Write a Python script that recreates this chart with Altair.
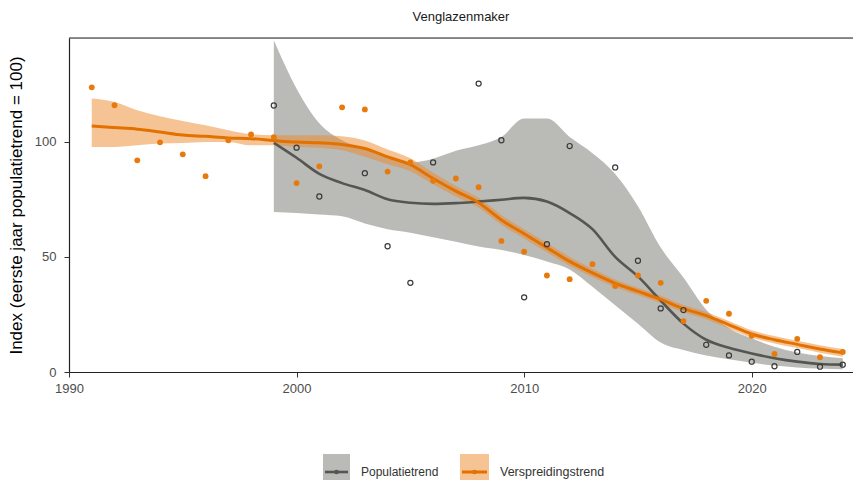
import altair as alt
import pandas as pd

# ---------------- data ----------------
spr_years = list(range(1991, 2025))
spr_points = [123.6, 115.8, 91.9, 99.7, 94.5, 85.0, 100.6, 103.1, 102.0, 82.0,
              89.3, 114.9, 114.0, 87.0, 91.0, 83.0, 84.0, 80.2, 56.9, 52.2,
              41.9, 40.3, 46.8, 37.3, 41.9, 38.7, 22.1, 30.9, 25.3, 15.7,
              7.8, 14.4, 6.4, 8.7]
spr_trend = [106.8, 106.1, 105.4, 104.2, 102.9, 102.3, 101.6, 101.3, 100.5, 99.8,
             99.5, 98.8, 97.0, 93.4, 90.0, 84.0, 78.5, 73.5, 66.0, 60.0,
             54.0, 48.0, 43.0, 38.5, 35.0, 31.5, 27.5, 24.5, 20.5, 16.5,
             14.0, 12.0, 10.0, 8.3]
spr_lo = [97.7, 97.7, 98.4, 99.2, 99.4, 99.9, 99.9, 98.4, 98.4, 97.7,
          97.4, 96.3, 93.5, 90.2, 87.2, 81.5, 76.2, 71.4, 63.9, 58.0,
          52.0, 46.1, 41.2, 36.8, 33.4, 29.9, 25.9, 22.9, 18.9, 14.9,
          12.4, 10.4, 8.4, 6.6]
spr_hi = [118.7, 117.2, 113.6, 111.0, 109.0, 107.1, 104.9, 103.2, 102.8, 102.8,
          102.8, 102.3, 100.5, 96.6, 92.8, 86.5, 80.8, 75.6, 68.1, 62.0,
          56.0, 49.9, 44.8, 40.2, 36.6, 33.1, 29.1, 26.1, 22.1, 18.1,
          15.6, 13.6, 11.6, 10.0]

pop_point_years = [1999, 2000, 2001, 2003, 2004, 2005, 2006, 2008, 2009, 2010,
                   2011, 2012, 2014, 2015, 2016, 2017, 2018, 2019, 2020, 2021,
                   2022, 2023, 2024]
pop_points = [115.7, 97.4, 76.2, 86.3, 54.6, 38.7, 91.0, 125.2, 100.6, 32.4,
              55.5, 98.1, 88.8, 48.3, 27.6, 26.9, 11.8, 7.2, 4.5, 2.5,
              8.7, 2.3, 3.2]
pop_years = list(range(1999, 2025))
pop_trend = [99.5, 93.0, 86.0, 82.0, 79.0, 75.0, 73.5, 73.0, 73.3, 74.0,
             74.8, 75.6, 74.0, 69.0, 62.0, 50.0, 41.5, 31.0, 21.0, 14.0,
             10.5, 8.0, 6.0, 4.5, 3.5, 3.2]
pop_lo = [69.5, 69.0, 68.4, 67.6, 64.5, 62.0, 60.5, 58.5, 56.5, 54.5,
          53.0, 50.8, 48.0, 44.5, 37.0, 29.0, 21.0, 12.8, 9.5, 7.2,
          5.5, 4.0, 2.8, 2.0, 1.5, 1.2]
pop_hi = [144.0, 123.0, 108.0, 100.6, 97.0, 94.0, 91.0, 92.6, 96.0, 98.4,
          102.0, 110.0, 110.0, 102.0, 95.0, 86.0, 72.0, 54.0, 41.0, 27.0,
          19.0, 14.6, 11.0, 8.5, 7.0, 6.0]

x_ticks = [1990, 2000, 2010, 2020]
y_ticks = [0, 50, 100]
title_text = "Venglazenmaker"
y_title = "Index (eerste jaar populatietrend = 100)"
legend_labels = ["Populatietrend", "Verspreidingstrend"]

# ---------------- styling ----------------
W, H = 784, 334
GREY_BAND = "#BABAB6"
GREY_LINE = "#555551"
ORANGE = "#E87A0C"
ORANGE_LINE = "#E27100"
ORANGE_BAND = "#EE8A2A"
FONT = "Liberation Sans"

spr_df = pd.DataFrame({"jaar": spr_years, "punt": spr_points, "trend": spr_trend,
                       "lo": spr_lo, "hi": spr_hi})
pop_df = pd.DataFrame({"jaar": pop_years, "trend": pop_trend, "lo": pop_lo, "hi": pop_hi})
pop_pts_df = pd.DataFrame({"jaar": pop_point_years, "punt": pop_points})

xscale = alt.Scale(domain=[1990, 2024.45], nice=False, zero=False)
yscale = alt.Scale(domain=[0, 145], nice=False)

x_axis = alt.Axis(values=x_ticks, format="d", title=None, grid=False,
                  labelColor="#4D4D4D", labelFontSize=13, labelFont=FONT,
                  labelFlush=False,
                  tickColor="#333333", tickSize=5, labelPadding=5,
                  domainColor="#222222", domainWidth=1.2)
y_axis = alt.Axis(values=y_ticks, title=y_title, grid=False,
                  labelColor="#4D4D4D", labelFontSize=13, labelFont=FONT,
                  labelFlush=False,
                  tickColor="#333333", tickSize=5, labelPadding=8,
                  domainColor="#222222", domainWidth=1.2,
                  titleFont=FONT, titleFontSize=17, titleFontWeight="normal",
                  titleColor="#000000", titleX=-44, titleY=H / 2,
                  titleAngle=270, titleAlign="center", titleBaseline="bottom")


def X():
    return alt.X("jaar:Q", scale=xscale, axis=x_axis)


def Y(field):
    return alt.Y(f"{field}:Q", scale=yscale, axis=y_axis)


grey_band = alt.Chart(pop_df).mark_area(color=GREY_BAND, opacity=1, interpolate="monotone", clip=True).encode(
    x=X(), y=Y("lo"), y2="hi:Q")
orange_band = alt.Chart(spr_df).mark_area(color=ORANGE_BAND, opacity=0.5, interpolate="monotone", clip=True).encode(
    x=X(), y=Y("lo"), y2="hi:Q")
grey_line = alt.Chart(pop_df).mark_line(color=GREY_LINE, strokeWidth=2.6, interpolate="monotone", clip=True).encode(
    x=X(), y=Y("trend"))
orange_line = alt.Chart(spr_df).mark_line(color=ORANGE_LINE, strokeWidth=3, interpolate="monotone", clip=True).encode(
    x=X(), y=Y("trend"))
grey_pts = alt.Chart(pop_pts_df).mark_point(shape="circle", filled=False, color="#3A3A3A",
                                            size=26, strokeWidth=1.2, opacity=1).encode(
    x=X(), y=Y("punt"))
orange_pts = alt.Chart(spr_df).mark_point(shape="circle", filled=True, color=ORANGE,
                                          size=34, opacity=1).encode(
    x=X(), y=Y("punt"))

one = pd.DataFrame({"k": [0]})
top_border = alt.Chart(one).mark_rule(color="#222222", strokeWidth=1.2).encode(
    x=alt.value(0), x2=alt.value(W), y=alt.value(0))

# legend (drawn below the plot)
ly = 434
leg = [
    alt.Chart(one).mark_rect(color=GREY_BAND).encode(
        x=alt.value(254), x2=alt.value(281), y=alt.value(416), y2=alt.value(452)),
    alt.Chart(one).mark_rule(color=GREY_LINE, strokeWidth=2.6).encode(
        x=alt.value(256), x2=alt.value(279), y=alt.value(ly)),
    alt.Chart(one).mark_point(shape="circle", filled=True, color=GREY_LINE, size=22, opacity=1).encode(
        x=alt.value(267.5), y=alt.value(ly)),
    alt.Chart(one).mark_text(align="left", baseline="middle", fontSize=12, font=FONT, color="#333333").encode(
        x=alt.value(292), y=alt.value(ly), text=alt.value(legend_labels[0])),
    alt.Chart(one).mark_rect(color="#F6C494").encode(
        x=alt.value(391), x2=alt.value(420), y=alt.value(416), y2=alt.value(452)),
    alt.Chart(one).mark_rule(color=ORANGE_LINE, strokeWidth=3).encode(
        x=alt.value(393), x2=alt.value(418), y=alt.value(ly)),
    alt.Chart(one).mark_point(shape="circle", filled=True, color=ORANGE_LINE, size=22, opacity=1).encode(
        x=alt.value(405.5), y=alt.value(ly)),
    alt.Chart(one).mark_text(align="left", baseline="middle", fontSize=12.5, font=FONT, color="#333333").encode(
        x=alt.value(431), y=alt.value(ly), text=alt.value(legend_labels[1])),
]

chart = alt.layer(grey_band, orange_band, grey_line, orange_line, grey_pts, orange_pts,
                  top_border, *leg).properties(
    width=W, height=H,
    title=alt.TitleParams(title_text, fontSize=13, font=FONT, fontWeight="normal",
                          color="#1A1A1A", anchor="middle", offset=13),
    autosize=alt.AutoSizeParams(type="none"),
    padding={"left": 61, "top": 30, "right": 0, "bottom": 108},
).configure_view(stroke=None).configure(background="white")

chart.save("out.html", embed_options={"renderer": "svg", "actions": False})
